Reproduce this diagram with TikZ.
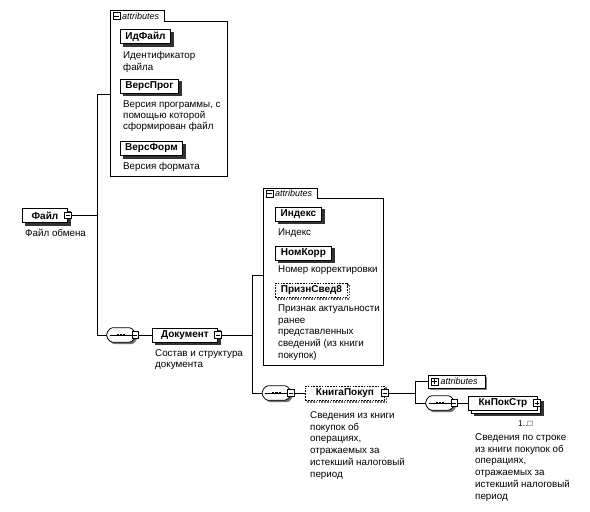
\documentclass[tikz,border=0pt]{standalone}
\usepackage{fontspec}
\setmainfont{Liberation Sans}
\newcommand\seqsym[2]{%
  \node[seqbox] (#1) at (#2) {};
  \path[seqshadow] ([yshift=2.5pt]#1.west) -- ([xshift=4pt]#1.north west) -- ([xshift=-4pt]#1.north east) -- ([yshift=2.5pt]#1.east)
     -- ([yshift=-2.5pt]#1.east) -- ([xshift=-4pt]#1.south east) -- ([xshift=4pt]#1.south west) -- ([yshift=-2.5pt]#1.west) -- cycle;
  \path[seqline] ([yshift=2.5pt]#1.west) -- ([xshift=4pt]#1.north west) -- ([xshift=-4pt]#1.north east) -- ([yshift=2.5pt]#1.east)
     -- ([yshift=-2.5pt]#1.east) -- ([xshift=-4pt]#1.south east) -- ([xshift=4pt]#1.south west) -- ([yshift=-2.5pt]#1.west) -- cycle;
  \draw[line width=0.6pt] ([xshift=3pt]#1.west) -- ([xshift=-3pt]#1.east);
  \foreach \dx in {-3.3,0,3.3} \fill ([xshift=\dx pt]#1.center) ++(-1.1pt,-0.9pt) rectangle ++(2.2pt,1.8pt);
}
\begin{document}
\begin{tikzpicture}[x=1pt,y=-1pt,
  every node/.style={inner sep=0pt},
  ln/.style={line width=0.7pt},
  elem/.style={draw,fill=white,line width=0.9pt,font=\bfseries\fontsize{10}{12}\selectfont,minimum height=14pt,anchor=west,
     preaction={fill=black!80,draw=black!80,transform canvas={shift={(2.8pt,-2.8pt)}}}},
  plainelem/.style={draw,fill=white,line width=0.9pt,font=\bfseries\fontsize{10}{12}\selectfont,minimum height=14pt,anchor=west},
  optelem/.style={draw,fill=white,line width=0.9pt,dash pattern=on 1.6pt off 1.2pt,font=\bfseries\fontsize{10}{12}\selectfont,minimum height=14pt,anchor=west,
     preaction={draw=black!60,line width=1.6pt,dash pattern=on 1.6pt off 1.2pt,transform canvas={shift={(2pt,-2pt)}}}},
  desc/.style={font=\fontsize{9.8}{11.7}\selectfont,align=left,anchor=north west},
  sq/.style={draw,fill=white,line width=0.6pt,minimum size=6.5pt,
     path picture={\draw[line width=0.6pt] ([xshift=1.3pt]path picture bounding box.west) -- ([xshift=-1.3pt]path picture bounding box.east);}},
  sqplus/.style={draw,fill=white,line width=0.6pt,minimum size=7pt,
     path picture={\draw[line width=0.6pt] ([xshift=1.3pt]path picture bounding box.west) -- ([xshift=-1.3pt]path picture bounding box.east);
                   \draw[line width=0.6pt] ([yshift=-1.3pt]path picture bounding box.north) -- ([yshift=1.3pt]path picture bounding box.south);}},
  seqbox/.style={minimum width=28pt,minimum height=14pt},
  seqshadow/.style={fill=black!55,rounded corners=1.5pt,transform canvas={shift={(2pt,-2pt)}}},
  seqline/.style={draw,fill=white,line width=0.8pt,rounded corners=1.5pt},
  tabtxt/.style={font=\itshape\fontsize{9}{10}\selectfont,anchor=west},
  abox/.style={line width=0.8pt}
]
\useasboundingbox (0,0) rectangle (590,512);
\fill[white] (0,0) rectangle (590,512);

% ---------- attributes box 1
\draw[abox] (110,176) -- (110,10) -- (164,10) -- (164,21.5) -- (227,21.5) -- (227,176) -- cycle;
\node[sq,minimum size=7pt] (t1s) at (116.5,15.8) {};
\node[tabtxt] (t1t) at (122,15.8) {attributes};
\coordinate (a1w) at (110,94);

\node[elem,minimum width=50pt] (idf) at (120,36.5) {ИдФайл};
\node[desc] (idfd) at (123,51.5) {Идентификатор\\файла};
\node[elem,minimum width=58pt] (vpr) at (120,86) {ВерсПрог};
\node[desc,font=\fontsize{9.8}{11}\selectfont] (vprd) at (123,100.5) {Версия программы, с\\помощью которой\\сформирован файл};
\node[elem,minimum width=62pt] (vfo) at (120,148.5) {ВерсФорм};
\node[desc] (vfod) at (123,162.5) {Версия формата};

% ---------- Файл
\node[elem,minimum width=45pt] (fajl) at (22,215.5) {Файл\hspace{6pt}};
\node[sq] (fajlc) at (fajl.east) {};
\node[desc] (fajld) at (25,229.5) {Файл обмена};
\coordinate (v1t) at (97,94);
\coordinate (v1m) at (97,215.5);
\coordinate (v1b) at (97,335);
\draw[ln] (fajlc.east) -- (v1m);
\draw[ln] (a1w) -- (v1t) -- (v1b);

% ---------- Документ
\seqsym{s1}{121,335}
\node[sq] (s1c) at (s1.east) {};
\draw[ln] (v1b) -- (s1.west);
\node[elem,minimum width=65pt] (dok) at (152,335) {Документ\hspace{6pt}};
\node[sq] (dokc) at (dok.east) {};
\draw[ln] (s1c.east) -- (dok.west);
\node[desc,font=\fontsize{9.8}{11}\selectfont] (dokd) at (155,349.5) {Состав и структура\\документа};

% ---------- attributes box 2
\draw[abox] (263,365) -- (263,188) -- (317,188) -- (317,198.5) -- (383,198.5) -- (383,365) -- cycle;
\node[sq,minimum size=7pt] (t2s) at (269.5,193.5) {};
\node[tabtxt] (t2t) at (275,193.5) {attributes};
\coordinate (a2w) at (263,275);

\node[elem,minimum width=46pt] (ind) at (275,214) {Индекс};
\node[desc] (indd) at (278,228.5) {Индекс};
\node[elem,minimum width=56pt] (nk) at (275,253) {НомКорр};
\node[desc] (nkd) at (278,265.5) {Номер корректировки};
\node[optelem,minimum width=72pt] (ps) at (275,290) {ПризнСвед8};
\node[desc] (psd) at (278,304.5) {Признак актуальности\\ранее\\представленных\\сведений (из книги\\покупок)};

\coordinate (v2t) at (252,275);
\coordinate (v2m) at (252,335);
\coordinate (v2b) at (252,393);
\draw[ln] (dokc.east) -- (v2m);
\draw[ln] (a2w) -- (v2t) -- (v2b);

% ---------- КнигаПокуп
\seqsym{s2}{276.5,393}
\node[sq] (s2c) at (s2.east) {};
\draw[ln] (v2b) -- (s2.west);
\node[optelem,minimum width=79pt] (kp) at (305,393) {КнигаПокуп\hspace{6pt}};
\node[sq] (kpc) at (kp.east) {};
\draw[ln] (s2c.east) -- (kp.west);
\node[desc] (kpd) at (310,411.5) {Сведения из книги\\покупок об\\операциях,\\отражаемых за\\истекший налоговый\\период};

\coordinate (v3t) at (415,381.5);
\coordinate (v3m) at (415,393);
\coordinate (v3b) at (415,403);
\draw[ln] (kpc.east) -- (v3m);

% ---------- collapsed attributes
\node[draw,fill=white,line width=0.8pt,minimum width=57pt,minimum height=13pt,anchor=west,
      preaction={fill=black!50,transform canvas={shift={(1.5pt,-1.5pt)}}}] (ac) at (428,381.5) {};
\node[sqplus] (acs) at (434.5,381.5) {};
\node[tabtxt] (act) at (440.5,381.5) {attributes};

% ---------- КнПокСтр
\seqsym{s3}{440,403}
\node[sq] (s3c) at (s3.east) {};
\draw[ln] (v3t) -- (v3b) -- (s3.west);
\draw[ln] (v3t) -- (ac.west);
\node[elem,minimum width=69pt] (kpsb) at (471,406) {\phantom{КнПокСтр}};
\node[plainelem,minimum width=69pt] (kps) at (468,403) {КнПокСтр\hspace{6pt}};
\node[sqplus] (kpsc) at ([xshift=-1pt]kps.east) {};
\draw[ln] (s3c.east) -- (kps.west);
\node[font=\fontsize{8.5}{10}\selectfont,anchor=east] (mult) at (533,424) {1..□};
\node[desc] (kpsd) at (475,433.5) {Сведения по строке\\из книги покупок об\\операциях,\\отражаемых за\\истекший налоговый\\период};
\end{tikzpicture}
\end{document}
